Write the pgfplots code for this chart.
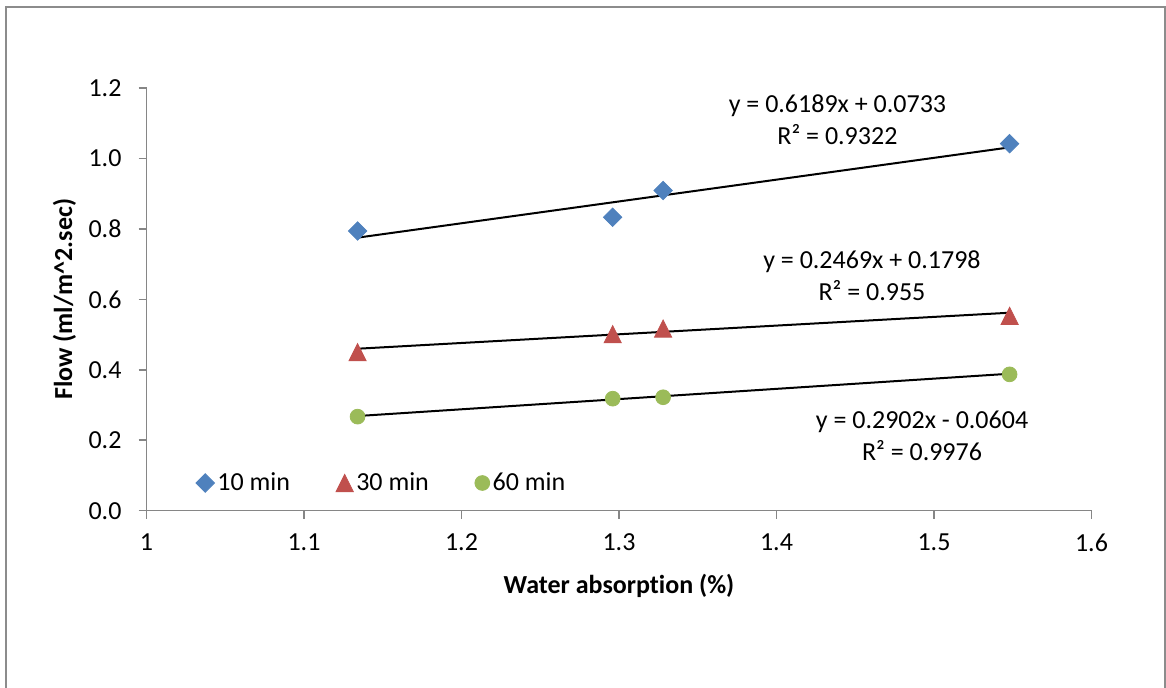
\documentclass[border=0pt]{standalone}
\usepackage{pgfplots}
\usepackage{pgfplotstable}
\pgfplotsset{compat=1.18}
\usepackage{fontspec}
\setmainfont{Carlito}[Ligatures={NoCommon,NoRare}]

\definecolor{tenmin}{HTML}{4F81BD}
\definecolor{thirtymin}{HTML}{C0504D}
\definecolor{sixtymin}{HTML}{9BBB59}
\definecolor{axisgray}{HTML}{868686}
\definecolor{framegray}{HTML}{8C8C8C}

% markers centred on their data point, as wide as they are tall
\pgfdeclareplotmark{xldiamond}{%
  \pgfpathmoveto{\pgfqpoint{0pt}{\pgfplotmarksize}}%
  \pgfpathlineto{\pgfqpoint{\pgfplotmarksize}{0pt}}%
  \pgfpathlineto{\pgfqpoint{0pt}{-\pgfplotmarksize}}%
  \pgfpathlineto{\pgfqpoint{-\pgfplotmarksize}{0pt}}%
  \pgfpathclose
  \pgfusepathqfillstroke}
\pgfdeclareplotmark{xltriangle}{%
  \pgfpathmoveto{\pgfqpoint{0pt}{\pgfplotmarksize}}%
  \pgfpathlineto{\pgfqpoint{\pgfplotmarksize}{-\pgfplotmarksize}}%
  \pgfpathlineto{\pgfqpoint{-\pgfplotmarksize}{-\pgfplotmarksize}}%
  \pgfpathclose
  \pgfusepathqfillstroke}

\newcommand\chartfont{\fontsize{13}{16}\selectfont}

% flow after 10, 30 and 60 minutes against water absorption
\pgfplotstableread{
x      y10    y30    y60
1.134  0.794  0.450  0.267
1.296  0.833  0.501  0.318
1.328  0.909  0.517  0.322
1.548  1.042  0.553  0.387
}\flowdata

\pgfplotsset{
  markonly/.style={legend image code/.code={%
    \draw[mark repeat=2,mark phase=2,##1] plot coordinates {(0pt,0pt)(4.5pt,0pt)(9pt,0pt)};}},
}

\begin{document}
\begin{tikzpicture}
\useasboundingbox (0,0) rectangle (583pt,344pt);
\draw[framegray, line width=1pt] (2.75pt,0pt) -- (2.75pt,340.25pt) -- (582.25pt,340.25pt) -- (582.25pt,0pt);
\begin{axis}[
  at={(73.25pt,88.65pt)}, anchor=south west,
  scale only axis, width=472.5pt, height=211.35pt,
  xmin=1, xmax=1.6, ymin=0, ymax=1.2,
  xtick={1,1.1,1.2,1.3,1.4,1.5,1.6},
  xticklabels={1,1.1,1.2,1.3,1.4,1.5,1.6},
  ytick={0,0.2,0.4,0.6,0.8,1.0,1.2},
  yticklabels={0.0,0.2,0.4,0.6,0.8,1.0,1.2},
  axis x line*=bottom, axis y line*=left,
  axis line style={draw=axisgray, line width=0.75pt, -},
  tick align=outside, major tick length=4pt,
  tick style={draw=axisgray, line width=0.75pt},
  ticklabel style={font=\chartfont},
  xticklabel style={yshift=-4pt},
  yticklabel style={xshift=-5pt},
  xlabel={Water absorpt\kern0pt ion (\%)},
  ylabel={Flow (ml/m\textasciicircum 2.sec)},
  every axis x label/.style={at={(axis description cs:0.5,0)}, yshift=-37.5pt,
    anchor=center, font=\chartfont\bfseries},
  every axis y label/.style={at={(axis description cs:0,0.5)}, xshift=-41pt,
    rotate=90, anchor=center, font=\chartfont\bfseries},
  legend columns=3,
  legend style={draw=none, fill=none, inner sep=0pt,
    at={(0.052,0.0655)}, anchor=west, font=\chartfont,
    nodes={inner xsep=1.5pt, inner ysep=1pt},
    /tikz/every even column/.append style={column sep=21.5pt}},
  clip=false,
]
\addplot[only marks, mark=xldiamond, mark size=4.6pt, color=tenmin, markonly]
  table[x=x, y=y10] {\flowdata};
\addlegendentry{10 min}
\addplot[only marks, mark=xltriangle, mark size=4.3pt, color=thirtymin, markonly]
  table[x=x, y=y30] {\flowdata};
\addlegendentry{30 min}
\addplot[only marks, mark=*, mark size=3.7pt, color=sixtymin, markonly]
  table[x=x, y=y60] {\flowdata};
\addlegendentry{60 min}

% linear trend lines, from the fitted equations
\addplot[black, line width=1pt, forget plot] coordinates {(1.134,0.7751) (1.548,1.0314)};
\addplot[black, line width=1pt, forget plot] coordinates {(1.134,0.4598) (1.548,0.5620)};
\addplot[black, line width=1pt, forget plot] coordinates {(1.134,0.2687) (1.548,0.3888)};

\node[align=center, font=\chartfont] at (axis cs:1.4387,1.110) {y = 0.6189x + 0.0733\\R² = 0.9322};
\node[align=center, font=\chartfont] at (axis cs:1.4606,0.667) {y = 0.2469x + 0.1798\\R² = 0.955};
\node[align=center, font=\chartfont] at (axis cs:1.4924,0.2137) {y = 0.2902x - 0.0604\\R² = 0.9976};
\end{axis}
\end{tikzpicture}
\end{document}
